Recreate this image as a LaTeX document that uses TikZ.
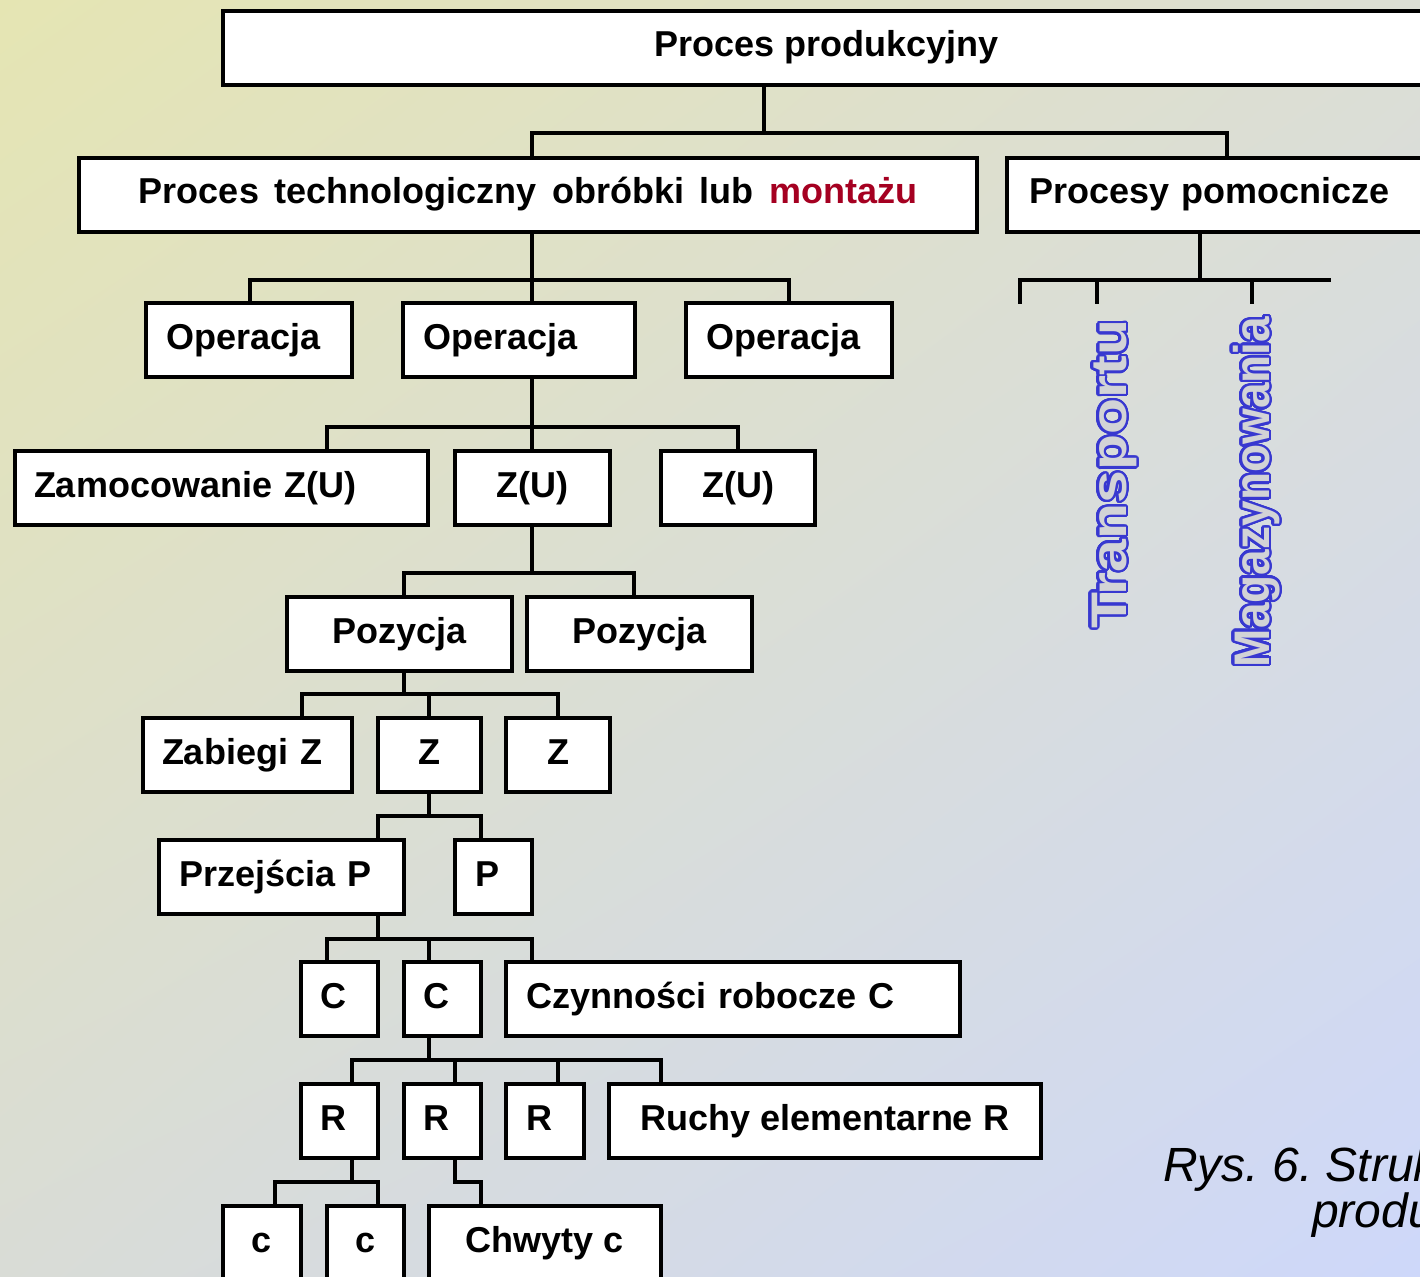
\documentclass[tikz,border=0pt]{standalone}
\usepackage{fontspec}
\setmainfont{Liberation Sans}
\usepackage[copies]{contour}
\usetikzlibrary{shadings}
\contournumber{32}
\frenchspacing
\definecolor{bgUL}{HTML}{E5E5B3}
\definecolor{bgUR}{HTML}{DCDED4}
\definecolor{bgLL}{HTML}{D9DCD6}
\definecolor{bgLR}{HTML}{CED8FA}
\definecolor{montaz}{HTML}{A50021}
\definecolor{vblue}{HTML}{3838D0}
\definecolor{vfill}{HTML}{D2D3D6}
\pgfdeclarelayer{bg}
\pgfdeclarelayer{conn}
\pgfsetlayers{bg,conn,main}
\begin{document}
\begin{tikzpicture}[x=1pt,y=-1pt,
  bx/.style={draw=black, line width=4pt, fill=white, anchor=north west,
    outer sep=0pt, minimum height=74pt, inner ysep=0pt, text height=26pt, text depth=8pt,
    font=\fontsize{36pt}{40pt}\selectfont\bfseries},
  lb/.style={text width=#1, inner xsep=20pt, align=left},
  cb/.style={minimum width=#1, inner xsep=0pt, align=center},
  conn/.style={line width=4pt, line cap=rect, line join=miter, draw=black},
  vtext/.style={rotate=90, anchor=base, inner sep=0pt,
    font=\fontsize{50pt}{50pt}\selectfont\bfseries},
  capt/.style={anchor=base west, inner sep=0pt,
    font=\fontsize{48pt}{48pt}\selectfont\itshape}]
\useasboundingbox (0,0) rectangle (1420,1276);
\clip (0,0) rectangle (1420,1276);
\begin{pgfonlayer}{bg}
\shade[upper left=bgUL, upper right=bgUR, lower left=bgLL, lower right=bgLR]
  (0,0) rectangle (1420,1276);
\end{pgfonlayer}

% boxes
\node[bx, cb=1207pt] (top) at (223,11) {Proces produkcyjny};
\node[bx, cb=898pt] (tech) at (79,158)
  {\spaceskip=15.5pt\relax Proces technologiczny obróbki lub \textcolor{montaz}{montażu}};
\node[bx, lb=420pt, inner xsep=22pt] (pom) at (1007,158) {Procesy pomocnicze};

\node[bx, lb=166pt] (op1) at (146,303) {Operacja};
\node[bx, lb=192pt] (op2) at (403,303) {Operacja};
\node[bx, lb=166pt] (op3) at (686,303) {Operacja};

\node[bx, lb=375pt, inner xsep=19pt] (zam) at (15,451) {Zamocowanie Z(U)};
\node[bx, cb=155pt] (zu1) at (455,451) {Z(U)};
\node[bx, cb=154pt] (zu2) at (661,451) {Z(U)};

\node[bx, cb=225pt] (poz1) at (287,597) {Pozycja};
\node[bx, cb=225pt] (poz2) at (527,597) {Pozycja};

\node[bx, lb=171pt, inner xsep=19pt] (zab) at (143,718) {Zabiegi Z};
\node[bx, cb=103pt] (z1) at (378,718) {Z};
\node[bx, cb=104pt] (z2) at (506,718) {Z};

\node[bx, lb=205pt] (prz) at (159,840) {Przejścia P};
\node[bx, lb=37pt] (p) at (455,840) {P};

\node[bx, lb=39pt, inner xsep=19pt] (c1) at (301,962) {C};
\node[bx, lb=39pt, inner xsep=19pt] (c2) at (404,962) {C};
\node[bx, lb=414pt] (czy) at (506,962) {Czynności robocze C};

\node[bx, lb=39pt, inner xsep=19pt] (r1) at (301,1084) {R};
\node[bx, lb=39pt, inner xsep=19pt] (r2) at (404,1084) {R};
\node[bx, lb=38pt] (r3) at (506,1084) {R};
\node[bx, cb=432pt] (ruchy) at (609,1084) {Ruchy elementarne R};

\node[bx, cb=78pt] (cc1) at (223,1206) {c};
\node[bx, cb=77pt] (cc2) at (327,1206) {c};
\node[bx, cb=232pt] (chw) at (429,1206) {Chwyty c};

% vertical outlined labels
\contourlength{2.4pt}
\node[vtext] (tr) at (1126,474)
  {\contour{vblue}{\scalebox{1.18}[1]{\textcolor{vfill}{Transportu}}}};
\node[vtext] (mg) at (1269,492)
  {\contour{vblue}{\scalebox{0.92}[1]{\textcolor{vfill}{Magazynowania}}}};

% caption
\node[capt] (cap1) at (1163,1181) {Rys. 6. Struk};
\node[capt] (cap2) at (1312,1227) {produ};

% connectors
\begin{pgfonlayer}{conn}
\coordinate (a0) at (764,133);
\coordinate (a1) at (532,133);
\coordinate (a2) at (1227,133);
\draw[conn] (a0 |- top.south) -- (a0);
\draw[conn] (a1 |- tech.north) -- (a1) -- (a2) -- (a2 |- pom.north);

\coordinate (q0) at (1200,280);
\coordinate (q1) at (1020,280);
\coordinate (q2) at (1329,280);
\coordinate (t1) at (1020,302);
\coordinate (t2) at (1097,302);
\coordinate (t3) at (1252,302);
\draw[conn] (q0 |- pom.south) -- (q0);
\draw[conn] (t1) -- (q1) -- (q2);
\draw[conn] (t2 |- q1) -- (t2);
\draw[conn] (t3 |- q1) -- (t3);

\coordinate (b0) at (532,280);
\coordinate (b1) at (250,280);
\coordinate (b2) at (789,280);
\draw[conn] (b0 |- tech.south) -- (b0) -- (b0 |- op2.north);
\draw[conn] (b1 |- op1.north) -- (b1) -- (b2) -- (b2 |- op3.north);

\coordinate (d0) at (532,427);
\coordinate (d1) at (327,427);
\coordinate (d2) at (738,427);
\draw[conn] (d0 |- op2.south) -- (d0) -- (d0 |- zu1.north);
\draw[conn] (d1 |- zam.north) -- (d1) -- (d2) -- (d2 |- zu2.north);

\coordinate (e0) at (532,573);
\coordinate (e1) at (404,573);
\coordinate (e2) at (634,573);
\draw[conn] (e0 |- zu1.south) -- (e0);
\draw[conn] (e1 |- poz1.north) -- (e1) -- (e2) -- (e2 |- poz2.north);

\coordinate (f0) at (404,694);
\coordinate (f1) at (302,694);
\coordinate (f2) at (558,694);
\coordinate (f3) at (429,694);
\draw[conn] (f0 |- poz1.south) -- (f0);
\draw[conn] (f1 |- zab.north) -- (f1) -- (f2) -- (f2 |- z2.north);
\draw[conn] (f3) -- (f3 |- z1.north);

\coordinate (g0) at (429,816);
\coordinate (g1) at (378,816);
\coordinate (g2) at (481,816);
\draw[conn] (g0 |- z1.south) -- (g0);
\draw[conn] (g1 |- prz.north) -- (g1) -- (g2) -- (g2 |- p.north);

\coordinate (h0) at (378,939);
\coordinate (h1) at (327,939);
\coordinate (h2) at (532,939);
\coordinate (h3) at (429,939);
\draw[conn] (h0 |- prz.south) -- (h0);
\draw[conn] (h1 |- c1.north) -- (h1) -- (h2) -- (h2 |- czy.north);
\draw[conn] (h3) -- (h3 |- c2.north);

\coordinate (i0) at (429,1060);
\coordinate (i1) at (352,1060);
\coordinate (i2) at (661,1060);
\coordinate (i3) at (455,1060);
\coordinate (i4) at (558,1060);
\draw[conn] (i0 |- c2.south) -- (i0);
\draw[conn] (i1 |- r1.north) -- (i1) -- (i2) -- (i2 |- ruchy.north);
\draw[conn] (i3) -- (i3 |- r2.north);
\draw[conn] (i4) -- (i4 |- r3.north);

\coordinate (k0) at (352,1182);
\coordinate (k1) at (275,1182);
\coordinate (k2) at (378,1182);
\draw[conn] (k0 |- r1.south) -- (k0);
\draw[conn] (k1 |- cc1.north) -- (k1) -- (k2) -- (k2 |- cc2.north);

\coordinate (m0) at (455,1182);
\coordinate (m1) at (481,1182);
\draw[conn] (m0 |- r2.south) -- (m0) -- (m1) -- (m1 |- chw.north);
\end{pgfonlayer}
\end{tikzpicture}
\end{document}
